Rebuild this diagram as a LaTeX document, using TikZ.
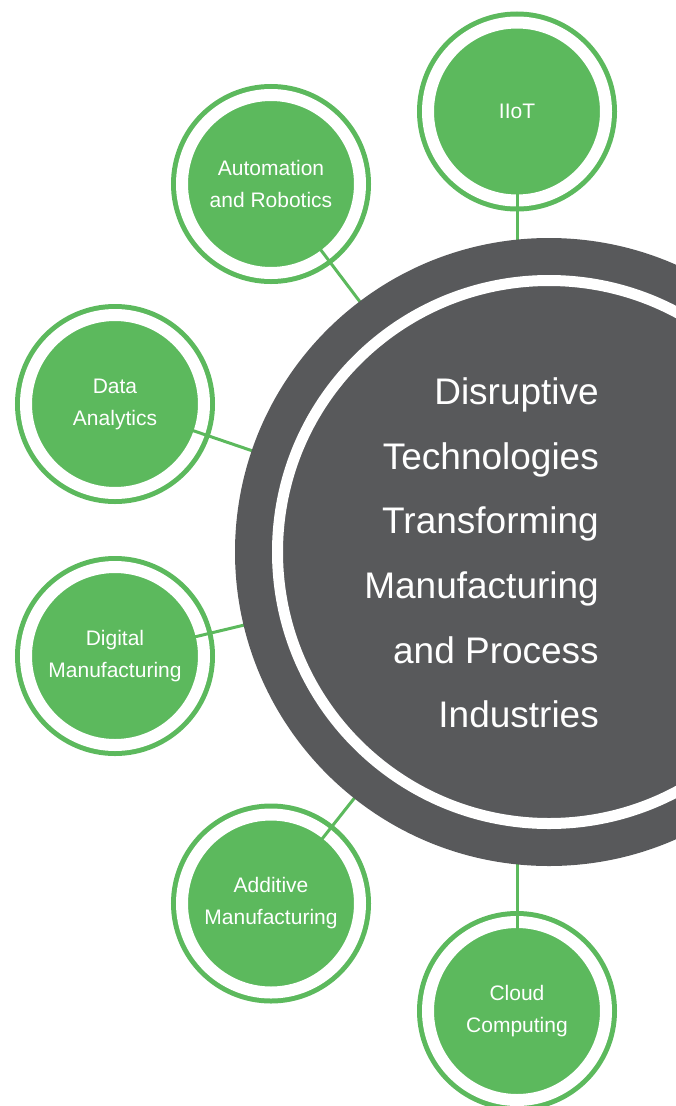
\documentclass[tikz,border=0pt]{standalone}
\usepackage{fontspec}
\setmainfont{Liberation Sans}
\usetikzlibrary{calc}
\definecolor{leafgreen}{RGB}{92,185,93}
\definecolor{hubgray}{RGB}{88,89,91}

\tikzset{
  topic/.style={circle, fill=leafgreen, draw=leafgreen, double=white,
    double distance=12pt, line width=5pt, minimum size=178pt, inner sep=0pt,
    text=white, align=center, font=\fontsize{21}{32}\selectfont},
  spoke/.style={draw=leafgreen, line width=3pt},
  hub/.style={circle, fill=hubgray, draw=hubgray, double=white,
    double distance=11pt, line width=37pt, minimum size=543pt, inner sep=0pt},
  title/.style={text=white, align=right, inner sep=0pt,
    font=\fontsize{37}{64.7}\selectfont},
}

\begin{document}
\begin{tikzpicture}[x=1pt, y=-1pt]
  \useasboundingbox (0,0) rectangle (676,1106);
  \clip (0,0) rectangle (676,1106);
  \coordinate (core) at (549,552);
  % the six topics round the hub
  \node[topic] (iiot)  at (517,111.5) {IIoT};
  \node[topic] (auto)  at (271,184)   {Automation\\and Robotics};
  \node[topic] (data)  at (115,404)   {Data\\Analytics};
  \node[topic] (digi)  at (115,656)   {Digital\\Manufacturing};
  \node[topic] (addi)  at (271,903.5) {Additive\\Manufacturing};
  \node[topic] (cloud) at (517,1011)  {Cloud\\Computing};
  % spokes (top and bottom ones run straight down/up)
  \draw[spoke] ($(iiot.center)+(0,80)$) -- (iiot.center |- core);
  \foreach \t in {auto,data,digi,addi}
    \draw[spoke] ($(\t.center)!80pt!(core)$) -- (core);
  \draw[spoke] ($(cloud.center)-(0,80)$) -- (cloud.center |- core);
  % hub on top
  \node[hub] (hub) at (core) {};
  \node[title, anchor=east] (heading) at (599,553)
    {Disruptive\\Technologies\\Transforming\\Manufacturing\\and Process\\Industries};
\end{tikzpicture}
\end{document}
